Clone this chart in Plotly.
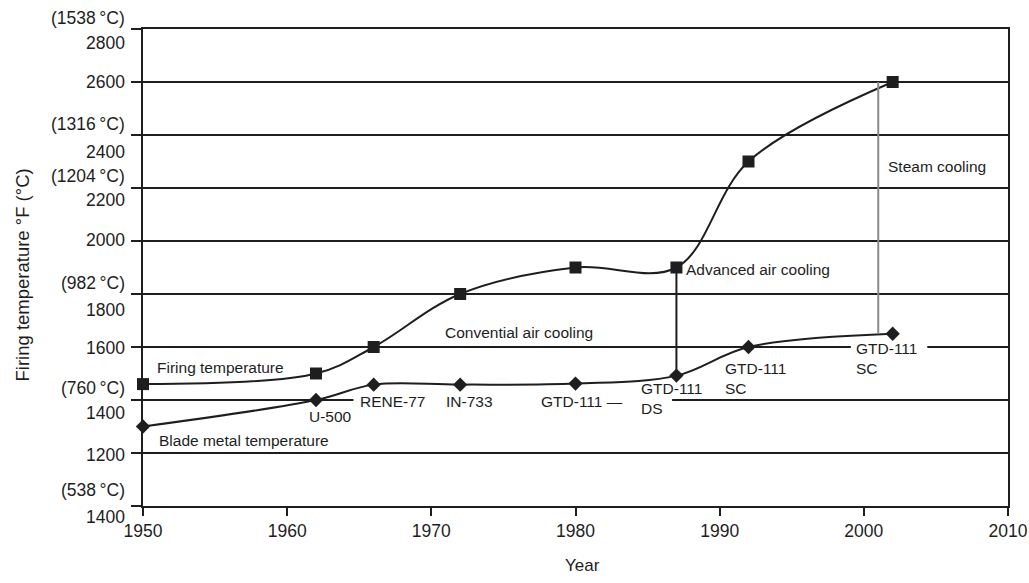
import plotly.graph_objects as go

# ---- data ----
years = [1950, 1962, 1966, 1972, 1980, 1987, 1992, 2002]
firing_temp_F = [1460, 1500, 1600, 1800, 1900, 1900, 2300, 2600]
blade_metal_F = [1300, 1400, 1458, 1458, 1462, 1492, 1600, 1650]

advanced_cooling_year = 1987
steam_cooling_year = 2001

x_ticks = [1950, 1960, 1970, 1980, 1990, 2000, 2010]
y_range = [1000, 2800]
grid_F = [1000, 1200, 1400, 1600, 1800, 2000, 2200, 2400, 2600, 2800]

# tick label texts (as printed in the source figure) and where they sit (°F)
y_label_text = ["(1538\u202f°C)", "2800", "2600", "(1316\u202f°C)", "2400", "(1204\u202f°C)",
                "2200", "2000", "(982\u202f°C)", "1800", "1600", "(760\u202f°C)", "1400",
                "1200", "(538\u202f°C)", "1400"]
y_label_at = [2841, 2747, 2600, 2442, 2336, 2245, 2155, 2004, 1842, 1740, 1596,
              1445, 1351, 1192, 1060, 958]

# in-plot text labels: (text, year, °F, anchor)
notes = [
    ("Firing temperature", 1950.8, 1524, "left"),
    ("Blade metal temperature", 1950.95, 1249, "left"),
    ("U-500", 1963.0, 1336, "center"),
    ("RENE-77", 1964.9, 1396, "left"),
    ("IN-733", 1970.9, 1396, "left"),
    ("GTD-111 \u2014", 1977.5, 1396, "left"),
    ("GTD-111<br>DS", 1984.4, 1404, "left"),
    ("GTD-111<br>SC", 1990.2, 1483, "left"),
    ("GTD-111<br>SC", 1999.3, 1558, "left"),
    ("Convential air cooling", 1970.8, 1653, "left"),
    ("Advanced air cooling", 1987.55, 1894, "left"),
    ("Steam cooling", 2001.55, 2283, "left"),
]

FONT = "Liberation Sans, Arial, sans-serif"
INK = "#1e1e1e"

fig = go.Figure()

fig.add_trace(go.Scatter(
    x=years, y=firing_temp_F, mode="lines+markers",
    line=dict(color=INK, width=2, shape="spline", smoothing=1.0),
    marker=dict(symbol="square", size=12, color=INK),
    showlegend=False, cliponaxis=False))

fig.add_trace(go.Scatter(
    x=years, y=blade_metal_F, mode="lines+markers",
    line=dict(color=INK, width=2, shape="spline", smoothing=1.0),
    marker=dict(symbol="diamond", size=11, color=INK),
    showlegend=False, cliponaxis=False))

# transition lines between blade metal and firing temperature
i_adv = years.index(advanced_cooling_year)
fig.add_trace(go.Scatter(
    x=[advanced_cooling_year, advanced_cooling_year],
    y=[blade_metal_F[i_adv], firing_temp_F[i_adv]],
    mode="lines", line=dict(color=INK, width=2), showlegend=False))
fig.add_trace(go.Scatter(
    x=[steam_cooling_year, steam_cooling_year],
    y=[blade_metal_F[-1], firing_temp_F[-1]],
    mode="lines", line=dict(color="#8a8a8a", width=2), showlegend=False))

# gaps in grid lines behind labels
fig.add_shape(type="rect", xref="x", yref="y", x0=1964.6, x1=1986.7, y0=1385, y1=1415,
              fillcolor="white", line=dict(width=0), layer="between")
fig.add_shape(type="rect", xref="x", yref="y", x0=1999.1, x1=2004.4, y0=1585, y1=1615,
              fillcolor="white", line=dict(width=0), layer="between")

for text, x, y, anc in notes:
    fig.add_annotation(x=x, y=y, xref="x", yref="y", text=text, showarrow=False,
                       xanchor=anc, yanchor="middle", align="left",
                       font=dict(family=FONT, size=15.5, color=INK))

span = y_range[1] - y_range[0]
for text, y in zip(y_label_text, y_label_at):
    fig.add_annotation(x=0, y=(y - y_range[0]) / span, xref="paper", yref="paper",
                       text=text, showarrow=False,
                       xanchor="right", yanchor="middle", xshift=-16,
                       font=dict(family=FONT, size=17.5, color=INK))

fig.add_annotation(x=0, y=0.5, xref="paper", yref="paper", text="Firing temperature °F (°C)",
                   showarrow=False, textangle=-90, xanchor="center", yanchor="middle",
                   xshift=-121, yshift=-8, font=dict(family=FONT, size=18.5, color=INK))
fig.add_annotation(x=0.5, y=0, xref="paper", yref="paper", text="Year", showarrow=False,
                   xanchor="center", yanchor="middle", xshift=7, yshift=-59,
                   font=dict(family=FONT, size=17, color=INK))

fig.update_xaxes(range=[x_ticks[0], x_ticks[-1]], tickvals=x_ticks, ticks="outside", ticklen=8,
                 tickwidth=2, tickcolor=INK, showgrid=False, zeroline=False,
                 showline=True, linecolor=INK, linewidth=2, mirror=True, automargin=False,
                 tickfont=dict(family=FONT, size=17.5, color=INK))
fig.update_yaxes(range=y_range, tickvals=grid_F, ticks="outside", ticklen=10,
                 tickwidth=2, tickcolor=INK, showticklabels=False, showgrid=True,
                 gridcolor=INK, gridwidth=2, zeroline=False, showline=True,
                 linecolor=INK, linewidth=2, mirror=True, automargin=False)

fig.update_layout(width=1029, height=583, margin=dict(l=143, r=21, t=29, b=77),
                  paper_bgcolor="white", plot_bgcolor="white",
                  font=dict(family=FONT, color=INK))

fig.write_html("out.html")
